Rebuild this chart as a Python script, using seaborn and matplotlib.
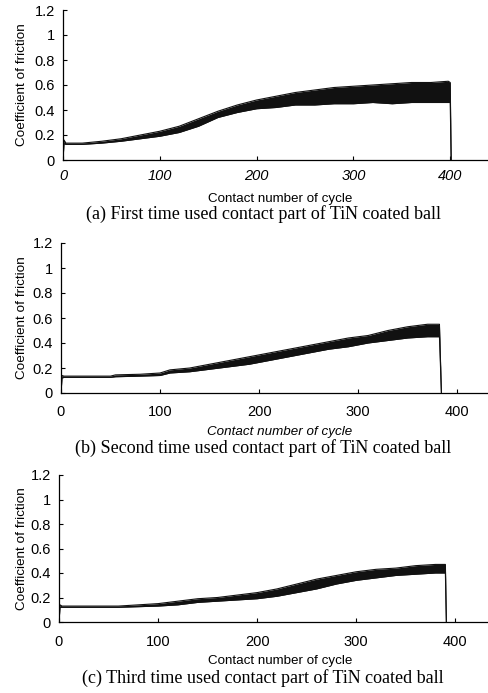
import matplotlib
matplotlib.use("Agg")
import matplotlib.pyplot as plt
import seaborn as sns
import pandas as pd

# ---- data (band envelopes of the friction trace) ----
cycles_a = [0, 1, 3, 20, 40, 60, 80, 100, 120, 140, 160, 180, 200, 220, 240, 260, 280, 300, 320, 340, 360, 380, 398, 400, 401]
low_a = [0, 0.13, 0.125, 0.125, 0.135, 0.15, 0.17, 0.19, 0.22, 0.27, 0.34, 0.38, 0.41, 0.42, 0.44, 0.44, 0.45, 0.45, 0.46, 0.45, 0.46, 0.46, 0.46, 0.46, 0]
high_a = [0, 0.16, 0.135, 0.135, 0.15, 0.17, 0.20, 0.23, 0.27, 0.33, 0.39, 0.44, 0.48, 0.51, 0.54, 0.56, 0.58, 0.59, 0.60, 0.61, 0.62, 0.62, 0.63, 0.62, 0]

cycles_b = [0, 1, 3, 50, 55, 80, 100, 110, 130, 150, 170, 190, 210, 230, 250, 270, 290, 310, 330, 350, 370, 382, 384]
low_b = [0, 0.12, 0.125, 0.125, 0.13, 0.135, 0.14, 0.16, 0.17, 0.19, 0.21, 0.23, 0.26, 0.29, 0.32, 0.35, 0.37, 0.40, 0.42, 0.44, 0.45, 0.45, 0]
high_b = [0, 0.14, 0.135, 0.135, 0.145, 0.15, 0.16, 0.185, 0.20, 0.23, 0.26, 0.29, 0.32, 0.35, 0.38, 0.41, 0.44, 0.46, 0.50, 0.53, 0.55, 0.55, 0]

cycles_c = [0, 1, 3, 60, 80, 100, 120, 140, 160, 180, 200, 220, 240, 260, 280, 300, 320, 340, 360, 380, 390, 391]
low_c = [0, 0.12, 0.12, 0.12, 0.125, 0.13, 0.14, 0.16, 0.17, 0.18, 0.19, 0.21, 0.24, 0.27, 0.31, 0.34, 0.36, 0.38, 0.39, 0.40, 0.40, 0]
high_c = [0, 0.14, 0.13, 0.13, 0.14, 0.15, 0.17, 0.19, 0.20, 0.22, 0.24, 0.27, 0.31, 0.35, 0.38, 0.41, 0.43, 0.44, 0.46, 0.47, 0.47, 0]

x_ticks = [0, 100, 200, 300, 400]
y_ticks = [0, 0.2, 0.4, 0.6, 0.8, 1.0, 1.2]
y_tick_labels = ["0", "0.2", "0.4", "0.6", "0.8", "1", "1.2"]
x_label = "Contact number of cycle"
y_label = "Coefficient of friction"
captions = [
    "(a) First time used contact part of TiN coated ball",
    "(b) Second time used contact part of TiN coated ball",
    "(c) Third time used contact part of TiN coated ball",
]

sns.set_theme(style="white")
plt.rcParams["font.family"] = ["Liberation Sans", "DejaVu Sans"]

W, H = 489, 693
fig = plt.figure(figsize=(W / 100, H / 100), dpi=100)

# panel geometry in pixels: left, right, top(1.2), bottom(0), xmax
panels = [
    dict(l=63, r=487, t=10, b=160, xmax=438, data=(cycles_a, low_a, high_a),
         tick_italic=True, xlab_italic=False, tickpad=6.5, cap_y=214, xlab_y=199),
    dict(l=61, r=487, t=243, b=393, xmax=430, data=(cycles_b, low_b, high_b),
         tick_italic=False, xlab_italic=True, tickpad=9, cap_y=448, xlab_y=432),
    dict(l=59, r=487, t=475, b=622, xmax=432, data=(cycles_c, low_c, high_c),
         tick_italic=False, xlab_italic=False, tickpad=9, cap_y=678, xlab_y=661),
]

for p, cap in zip(panels, captions):
    ax = fig.add_axes([p["l"] / W, 1 - p["b"] / H, (p["r"] - p["l"]) / W, (p["b"] - p["t"]) / H])
    xs, lo, hi = p["data"]
    df = pd.DataFrame({"cycle": xs, "low": lo, "high": hi})
    ax.fill_between(df["cycle"], df["low"], df["high"], color="#111111", linewidth=0)
    sns.lineplot(data=df, x="cycle", y="low", ax=ax, color="#111111", linewidth=0.8)
    sns.lineplot(data=df, x="cycle", y="high", ax=ax, color="#111111", linewidth=0.8)
    ax.set_xlim(0, p["xmax"])
    ax.set_ylim(0, 1.2)
    ax.set_xticks(x_ticks)
    ax.set_yticks(y_ticks)
    ax.set_yticklabels(y_tick_labels)
    for s in ["top", "right"]:
        ax.spines[s].set_visible(False)
    for s in ["left", "bottom"]:
        ax.spines[s].set_color("black")
        ax.spines[s].set_linewidth(0.9)
    ax.tick_params(axis="both", direction="in", length=3, width=0.8, colors="black",
                   labelsize=10.5, left=True, bottom=True)
    ax.tick_params(axis="x", pad=p["tickpad"])
    ax.tick_params(axis="y", pad=6)
    if p["tick_italic"]:
        for t in ax.get_xticklabels():
            t.set_style("italic")
    ax.set_xlabel("")
    ax.set_ylabel(y_label, fontsize=9.7, labelpad=2, color="black")
    ax.yaxis.set_label_coords(-(p["l"] - 28) / (p["r"] - p["l"]), 0.5)
    fig.text(280 / W, 1 - p["xlab_y"] / H, x_label, ha="center", va="center", fontsize=9.6,
             style="italic" if p["xlab_italic"] else "normal", color="black")
    fig.text(263 / W, 1 - p["cap_y"] / H, cap, ha="center", va="center", fontsize=13,
             family=["Liberation Serif", "DejaVu Serif"], color="black")

fig.savefig("out.png", dpi=100, facecolor="white")
